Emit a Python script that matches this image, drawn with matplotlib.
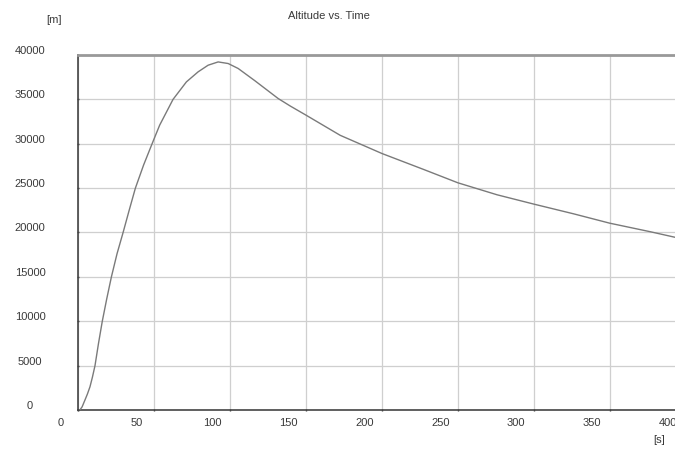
import numpy as np
import matplotlib
matplotlib.use("Agg")
import matplotlib.pyplot as plt
import matplotlib.transforms as mtransforms

time_s = [1, 2.5, 4.4, 6, 7.7, 9.3, 11, 13.3, 15.8, 18.7, 21.8, 25.5, 29.5,
          33.5, 37.6, 43, 48.6, 53.6, 62.4, 71.2, 78.9, 85.5, 92.1, 98.7,
          105.3, 116.3, 131.6, 139.6, 150, 172.5, 200, 227.5, 250, 275.8,
          300, 326.3, 350, 376.9, 393.3, 400]
altitude_m = [0, 350, 1130, 1800, 2620, 3700, 5000, 7500, 10000, 12500,
              15000, 17600, 20000, 22500, 25000, 27600, 30000, 32100, 35000,
              36970, 38100, 38850, 39220, 39040, 38480, 37100, 35100, 34250,
              33220, 30950, 28900, 27100, 25600, 24250, 23200, 22100, 21050,
              20080, 19450, 19200]

x_ticks = [0, 50, 100, 150, 200, 250, 300, 350, 400]
y_ticks = [0, 5000, 10000, 15000, 20000, 25000, 30000, 35000, 40000]

plt.rcParams['font.family'] = ['Liberation Sans', 'DejaVu Sans']
TXT = '#3a3a3a'

fig = plt.figure(figsize=(6.75, 4.5), dpi=100)
ax = fig.add_axes([78.3 / 675, 40 / 450, 1 - 78.3 / 675, 355 / 450])

ax.plot(time_s, altitude_m, color='#7a7a7a', lw=1.0, zorder=3)

ax.set_xlim(0, 393)
ax.set_ylim(0, 40000)
ax.set_xticks(x_ticks[:-1])
ax.set_yticks(y_ticks)
ax.grid(True, color='#cfcfcf', lw=0.9)
ax.tick_params(length=2, width=1, color='#444444', direction='inout',
               labelbottom=False, labelleft=False)

ax.spines['right'].set_visible(False)
ax.spines['left'].set_color('#444444')
ax.spines['bottom'].set_color('#444444')
ax.spines['left'].set_linewidth(1.2)
ax.spines['bottom'].set_linewidth(1.2)
ax.spines['top'].set_color('#999999')
ax.spines['top'].set_linewidth(2.0)

# x labels sit a bit left of their grid lines
xt = mtransforms.offset_copy(ax.get_xaxis_transform(), fig=fig, x=-17.5, y=-13, units='dots')
for v in x_ticks:
    ax.text(v, 0, str(v), transform=xt, ha='center', va='center',
            fontsize=8, color=TXT, clip_on=False)

# y labels centred in the left margin
yt = mtransforms.blended_transform_factory(fig.transFigure, ax.transData)
yt = yt + mtransforms.ScaledTranslation(0, 4 / 100, fig.dpi_scale_trans)
for v in y_ticks:
    ax.text(30 / 675, v, str(v), transform=yt, ha='center', va='center',
            fontsize=8, color=TXT, clip_on=False)

fig.text(54 / 675, 1 - 20 / 450, '[m]', ha='center', va='center', fontsize=8, color=TXT)
fig.text(659 / 675, 1 - 440 / 450, '[s]', ha='center', va='center', fontsize=8, color=TXT)
fig.text(329 / 675, 1 - 16 / 450, 'Altitude vs. Time', ha='center', va='center',
         fontsize=8, color=TXT)

fig.savefig('out.png', dpi=100)
